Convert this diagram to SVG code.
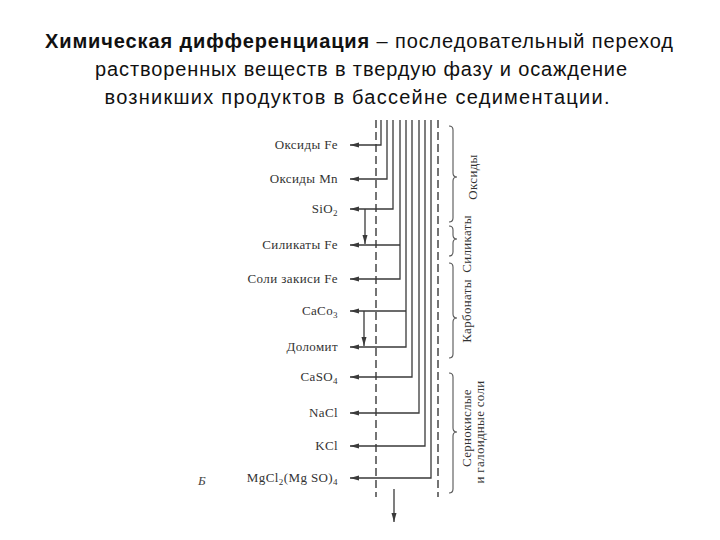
<svg xmlns="http://www.w3.org/2000/svg" width="720" height="540" viewBox="0 0 720 540">
<style>
.title{font-family:"Liberation Sans","DejaVu Sans",sans-serif;font-size:20px;fill:#111}
.lbl{font-family:"Liberation Serif","DejaVu Serif",serif;font-size:13px;fill:#333;text-anchor:end;letter-spacing:0.4px}
.grp{font-family:"Liberation Serif","DejaVu Serif",serif;font-size:13px;fill:#333;text-anchor:middle;letter-spacing:0.3px}
.ln{fill:none;stroke:#3a3a3a;stroke-width:1.3}
.arr{marker-end:url(#ah)}
.dash{fill:none;stroke:#3a3a3a;stroke-width:1.4;stroke-dasharray:8 4}
.brace{fill:none;stroke:#555;stroke-width:1.1}
</style>
<defs>
<marker id="ah" markerWidth="9" markerHeight="6" refX="9" refY="3" orient="auto" markerUnits="userSpaceOnUse">
<path d="M0,0.5 L9,3 L0,5.5 Z" fill="#3a3a3a"/>
</marker>
</defs>
<rect width="720" height="540" fill="#ffffff"/>
<g id="title">
<text class="title" x="359" y="48" text-anchor="middle" textLength="628"><tspan font-weight="bold">Химическая дифференциация</tspan> – последовательный переход</text>
<text class="title" x="361" y="76" text-anchor="middle" textLength="532">растворенных веществ в твердую фазу и осаждение</text>
<text class="title" x="357" y="104" text-anchor="middle" textLength="505">возникших продуктов в бассейне седиментации.</text>
</g>
<g id="connectors">
<path class="dash" d="M376 120 V497"/>
<path class="dash" d="M438 120 V497"/>
<path class="ln arr" d="M381 120 V145 H350"/>
<path class="ln arr" d="M387 120 V179 H350"/>
<path class="ln arr" d="M393 120 V209 H350"/>
<path class="ln arr" d="M400 120 V279 H350"/>
<path class="ln arr" d="M400 245 H350"/>
<path class="ln arr" d="M406 120 V347 H350"/>
<path class="ln arr" d="M406 311 H350"/>
<path class="ln arr" d="M412 120 V377 H350"/>
<path class="ln arr" d="M419 120 V413 H350"/>
<path class="ln arr" d="M425 120 V446 H350"/>
<path class="ln arr" d="M431 120 V478 H350"/>
<path class="ln arr" d="M365 209 V244"/>
<path class="ln arr" d="M364 311 V346"/>
<path class="ln arr" d="M394 489 V522"/>
</g>
<g id="labels">
<text class="lbl" x="338" y="149">Оксиды Fe</text>
<text class="lbl" x="338" y="183">Оксиды Mn</text>
<text class="lbl" x="338" y="213">SiO<tspan dy="3" font-size="9">2</tspan></text>
<text class="lbl" x="338" y="249">Силикаты Fe</text>
<text class="lbl" x="338" y="283">Соли закиси Fe</text>
<text class="lbl" x="338" y="315">CaCo<tspan dy="3" font-size="9">3</tspan></text>
<text class="lbl" x="338" y="351">Доломит</text>
<text class="lbl" x="338" y="381">CaSO<tspan dy="3" font-size="9">4</tspan></text>
<text class="lbl" x="338" y="417">NaCl</text>
<text class="lbl" x="338" y="450">KCl</text>
<text class="lbl" x="338" y="482">MgCl<tspan dy="3" font-size="9">2</tspan><tspan dy="-3">(Mg SO)</tspan><tspan dy="3" font-size="9">4</tspan></text>
<text x="198" y="485" font-family="Liberation Serif, serif" font-style="italic" font-size="13" fill="#444">Б</text>
</g>
<g id="group-oxides">
<path class="brace" d="M449 126 Q453 126 453 130 V173 Q453 177 457 177 Q453 177 453 181 V218 Q453 222 449 222"/>
<text class="grp" transform="translate(477 177) rotate(-90)">Оксиды</text>
</g>
<g id="group-silicates">
<path class="brace" d="M449 226 Q453 226 453 230 V235 Q453 239 457 239 Q453 239 453 243 V252 Q453 256 449 256"/>
<text class="grp" transform="translate(471 244) rotate(-90)">Силикаты</text>
</g>
<g id="group-carbonates">
<path class="brace" d="M449 263 Q453 263 453 267 V314 Q453 318 457 318 Q453 318 453 322 V354 Q453 358 449 358"/>
<text class="grp" transform="translate(471 311) rotate(-90)">Карбонаты</text>
</g>
<g id="group-salts">
<path class="brace" d="M449 373 Q453 373 453 377 V428 Q453 432 457 432 Q453 432 453 436 V489 Q453 493 449 493"/>
<text class="grp" transform="translate(471 428) rotate(-90)">Сернокислые</text>
<text class="grp" transform="translate(484 432) rotate(-90)">и галоидные соли</text>
</g>
</svg>
